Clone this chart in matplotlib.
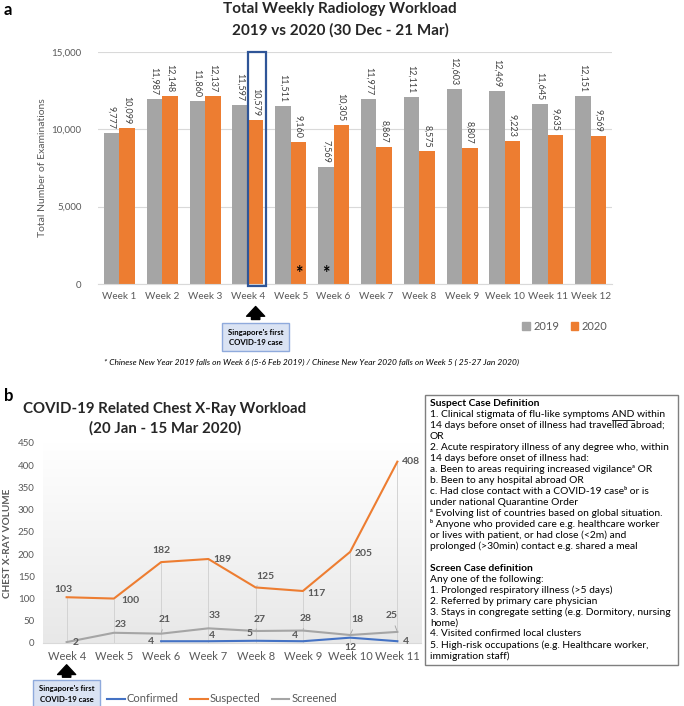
import numpy as np
import matplotlib
matplotlib.use("Agg")
import matplotlib.pyplot as plt
from matplotlib.patches import Rectangle, Patch
from matplotlib.lines import Line2D
from matplotlib.ticker import FuncFormatter
import matplotlib.transforms as mtrans

# ── Data ─────────────────────────────────────────────────────────────────────
weeks_a = [f"Week {i}" for i in range(1, 13)]
y2019 = [9777, 11987, 11860, 11597, 11511, 7569, 11977, 12111, 12603, 12469, 11645, 12151]
y2020 = [10099, 12148, 12137, 10579, 9160, 10305, 8867, 8575, 8807, 9223, 9635, 9569]

weeks_b = [f"Week {i}" for i in range(4, 12)]
confirmed = [np.nan, np.nan, 4, 4, 5, 4, 12, 4]
suspected = [103, 100, 182, 189, 125, 117, 205, 408]
screened = [2, 23, 21, 33, 27, 28, 18, 25]

GRAY, ORANGE, BLUE = "#A5A5A5", "#ED7D31", "#4472C4"
TXT, DARK = "#595959", "#262626"
W, H = 684, 706

plt.rcParams.update({"font.family": ["Lato", "DejaVu Sans"],
                     "mathtext.default": "regular"})

fig = plt.figure(figsize=(W / 100, H / 100), dpi=100)


def fx(px):
    return px / W


def fy(py):
    return 1 - py / H


# ── Panel a ──────────────────────────────────────────────────────────────────
ax = fig.add_axes([fx(98), fy(284), fx(612 - 98), (284 - 52) / H])
x = np.arange(len(weeks_a))
bw = 0.36
ax.bar(x - bw / 2, y2019, bw, color=GRAY, zorder=2, label="2019")
ax.bar(x + bw / 2, y2020, bw, color=ORANGE, zorder=2, label="2020")
for xi, v in zip(x - bw / 2, y2019):
    ax.text(xi, v + 250, f"{v:,}", rotation=270, ha="center", va="bottom",
            fontsize=6.5, color="#404040")
for xi, v in zip(x + bw / 2, y2020):
    ax.text(xi, v + 250, f"{v:,}", rotation=270, ha="center", va="bottom",
            fontsize=6.5, color="#404040")

ax.set_xlim(-0.5, len(weeks_a) - 0.5)
ax.set_ylim(0, 15000)
ax.set_yticks([0, 5000, 10000, 15000])
ax.yaxis.set_major_formatter(FuncFormatter(lambda v, p: f"{int(v):,}"))
ax.set_xticks(x)
ax.set_xticklabels(weeks_a)
ax.tick_params(axis="x", length=0, labelsize=7.2, colors=TXT, pad=6)
ax.tick_params(axis="y", length=0, labelsize=7, colors=TXT, pad=12)
ax.grid(axis="y", color="#D9D9D9", lw=0.8, zorder=0)
for s in ["top", "right", "left"]:
    ax.spines[s].set_visible(False)
ax.spines["bottom"].set_color("#D9D9D9")
ax.set_ylabel("Total Number of Examinations", fontsize=7.5, color=TXT, labelpad=3)

# highlight week 4 (2020)
ax.add_patch(Rectangle((3.0, -150), 0.42, 15150, fill=False, ec="#2F5597",
                       lw=1.6, clip_on=False, zorder=5))
# Chinese New Year markers
ax.text(4 + bw / 2, 150, "*", ha="center", va="bottom", fontsize=13,
        fontweight="bold", color="black")
ax.text(5 - bw / 2, 150, "*", ha="center", va="bottom", fontsize=13,
        fontweight="bold", color="black")

tr = mtrans.blended_transform_factory(ax.transData, ax.transAxes)
ax.annotate("", xy=(3 + bw / 2, -0.085), xycoords=tr,
            xytext=(3 + bw / 2, -0.165), textcoords=tr,
            arrowprops=dict(arrowstyle="simple,head_width=1.3,head_length=0.7,tail_width=0.6",
                            color="black"))
ax.text(3 + bw / 2, -0.23, "Singapore's first\nCOVID-19 case", transform=tr,
        ha="center", va="center", fontsize=5.6, fontweight="bold", color="black",
        linespacing=1.5,
        bbox=dict(boxstyle="square,pad=0.7", fc="#DAE3F3", ec="#8FAADC", lw=1))

fig.legend(handles=[Patch(color=GRAY, label="2019"), Patch(color=ORANGE, label="2020")],
           loc="center", bbox_to_anchor=(fx(565), fy(326)), ncol=2, frameon=False,
           fontsize=8, handlelength=0.7, handleheight=0.7, handletextpad=0.3,
           columnspacing=1.0, labelcolor=TXT)

fig.text(fx(311), fy(362),
         "* Chinese New Year 2019 falls on Week 6 (5-6 Feb 2019) / "
         "Chinese New Year 2020 falls on Week 5 ( 25-27 Jan 2020)",
         ha="center", va="center", fontsize=6.0, style="italic", color="black")

fig.text(fx(4), fy(10), "a", fontsize=12, fontweight="bold", va="center")
fig.text(fx(340), fy(2), "Total Weekly Radiology Workload\n2019 vs 2020 (30 Dec - 21 Mar)",
         ha="center", va="top", fontsize=11, fontweight="bold", color=DARK,
         linespacing=1.65)

# ── Panel b ──────────────────────────────────────────────────────────────────
bx = fig.add_axes([fx(43), fy(643), fx(421 - 43), 200 / H])
xb = np.arange(len(weeks_b))
grad = np.linspace(1.0, 0.91, 200)[:, None, None] * np.ones((1, 1, 3))
bx.imshow(grad, extent=[-0.5, len(weeks_b) - 0.5, 0, 450], aspect="auto",
          zorder=0, origin="upper")
bx.vlines(xb, 0, suspected, color="#D3D3D3", lw=0.7, zorder=1)
bx.plot(xb, confirmed, color=BLUE, lw=1.5, zorder=3, label="Confirmed")
bx.plot(xb, suspected, color=ORANGE, lw=1.5, zorder=3, label="Suspected")
bx.plot(xb, screened, color=GRAY, lw=1.5, zorder=3, label="Screened")

# label offsets in pixels (dx, dy) and whether a leader line is drawn
off_sus = [(-3, 8, 0), (17, -2, 0), (0, 12, 0), (14, 0, 0), (10, 11, 1),
           (14, -2, 0), (14, -2, 0), (14, 0, 0)]
off_scr = [(9, 0, 0), (7, 8, 0), (4, 14, 1), (6, 13, 0), (4, 12, 1),
           (3, 12, 1), (7, 15, 1), (-6, 16, 1)]
off_con = [None, None, (-10, 0, 0), (4, 6, 0), (-6, 7, 0), (-8, 6, 0),
           (0, -10, 0), (9, 0, 0)]


def put_labels(vals, offs):
    for xi, v, o in zip(xb, vals, offs):
        if o is None or np.isnan(v):
            continue
        dx, dy, lead = o
        kw = {}
        if lead:
            kw["arrowprops"] = dict(arrowstyle="-", color="#A0A0A0", lw=0.6,
                                    shrinkA=2, shrinkB=1)
        bx.annotate(f"{int(v)}", (xi, v), xytext=(dx, dy), textcoords="offset pixels",
                    ha="center", va="center", fontsize=7.5, fontweight="bold",
                    color=TXT, zorder=4, **kw)


put_labels(suspected, off_sus)
put_labels(screened, off_scr)
put_labels(confirmed, off_con)

bx.set_xlim(-0.5, len(weeks_b) - 0.5)
bx.set_ylim(0, 450)
bx.set_yticks(np.arange(0, 451, 50))
bx.set_xticks(xb)
bx.set_xticklabels(weeks_b)
bx.tick_params(axis="y", length=0, labelsize=7, colors=TXT, pad=6)
bx.tick_params(axis="x", length=0, labelsize=8, colors=TXT, pad=6)
for s in ["top", "right", "left"]:
    bx.spines[s].set_visible(False)
bx.spines["bottom"].set_color("#D9D9D9")
bx.set_ylabel("CHEST X-RAY VOLUME", fontsize=7.2, fontweight="bold", color=TXT,
              labelpad=4)

trb = mtrans.blended_transform_factory(bx.transData, bx.transAxes)
bx.annotate("", xy=(0, -0.095), xycoords=trb, xytext=(0, -0.185), textcoords=trb,
            arrowprops=dict(arrowstyle="simple,head_width=1.3,head_length=0.7,tail_width=0.6",
                            color="black"))
bx.text(0, -0.255, "Singapore's first\nCOVID-19 case", transform=trb,
        ha="center", va="center", fontsize=5.6, fontweight="bold", color="black",
        linespacing=1.5,
        bbox=dict(boxstyle="square,pad=0.7", fc="#DAE3F3", ec="#8FAADC", lw=1))

fig.legend(handles=[Line2D([0], [0], color=c, lw=1.5) for c in (BLUE, ORANGE, GRAY)],
           labels=["Confirmed", "Suspected", "Screened"],
           loc="center", bbox_to_anchor=(fx(222), fy(699)), ncol=3, frameon=False,
           fontsize=8, handlelength=1.6, handletextpad=0.2, columnspacing=1.0,
           labelcolor=TXT)

fig.text(fx(4), fy(396), "b", fontsize=12, fontweight="bold", va="center")
fig.text(fx(165), fy(402), "COVID-19 Related Chest X-Ray Workload\n(20 Jan - 15 Mar 2020)",
         ha="center", va="top", fontsize=10.8, fontweight="bold", color=DARK,
         linespacing=1.45)

# ── Definitions box ──────────────────────────────────────────────────────────
fig.patches.append(Rectangle((fx(425), fy(665)), fx(678 - 425), (665 - 395) / H,
                             transform=fig.transFigure, fill=False, ec="#7F7F7F",
                             lw=1.0, figure=fig))
box_lines = [
    ("Suspect Case Definition", True),
    ("1. Clinical stigmata of flu-like symptoms AND within", False),
    ("14 days before onset of illness had travelled abroad;", False),
    ("OR", False),
    ("2. Acute respiratory illness of any degree who, within", False),
    ("14 days before onset of illness had:", False),
    ("a. Been to areas requiring increased vigilance\u1d43 OR", False),
    ("b. Been to any hospital abroad OR", False),
    ("c. Had close contact with a COVID-19 case\u1d47 or is", False),
    ("under national Quarantine Order", False),
    ("\u1d43 Evolving list of countries based on global situation.", False),
    ("\u1d47 Anyone who provided care e.g. healthcare worker", False),
    ("or lives with patient, or had close (<2m) and", False),
    ("prolonged (>30min) contact e.g. shared a meal", False),
    ("", False),
    ("Screen Case definition", True),
    ("Any one of the following:", False),
    ("1. Prolonged respiratory illness (>5 days)", False),
    ("2. Referred by primary care physician", False),
    ("3. Stays in congregate setting (e.g. Dormitory, nursing", False),
    ("home)", False),
    ("4. Visited confirmed local clusters", False),
    ("5. High-risk occupations (e.g. Healthcare worker,", False),
    ("immigration staff)", False),
]
x0, ytop, step = 430, 404, 10.95
fs_box = 7.35
for i, (line, bold) in enumerate(box_lines):
    fig.text(fx(x0), fy(ytop + i * step), line, fontsize=fs_box, va="center",
             ha="left", color="black", fontweight="bold" if bold else "normal")

# underline "AND"
rend = fig.canvas.get_renderer()
t1 = fig.text(0, 0, "1. Clinical stigmata of flu-like symptoms AND", fontsize=fs_box)
t2 = fig.text(0, 0, "AND", fontsize=fs_box)
w1 = t1.get_window_extent(rend).width
w2 = t2.get_window_extent(rend).width
t1.remove()
t2.remove()
yl = ytop + step + 5.5
fig.add_artist(Line2D([fx(x0 + w1 - w2), fx(x0 + w1)], [fy(yl), fy(yl)],
                      color="black", lw=0.6, transform=fig.transFigure))

fig.savefig("out.png", dpi=100)
